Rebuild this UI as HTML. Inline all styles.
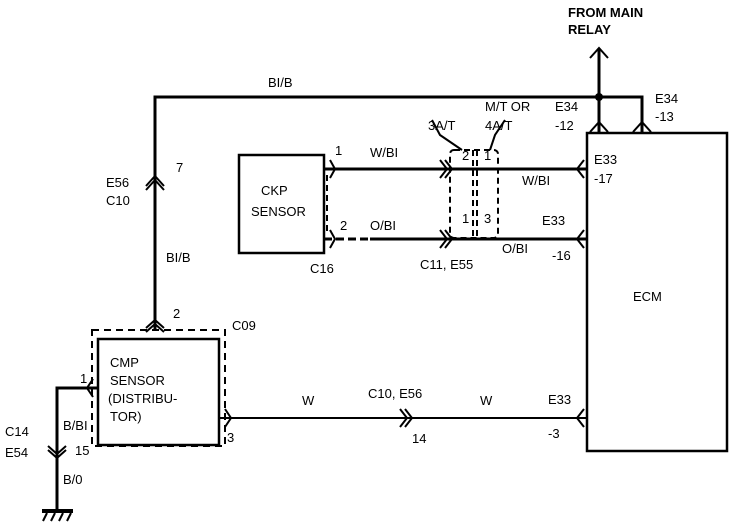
<!DOCTYPE html>
<html><head><style>body{margin:0;background:#fff}svg{display:block}text{font-family:"Liberation Sans",sans-serif;font-size:13px;fill:#000}</style></head><body>
<svg width="752" height="526" viewBox="0 0 752 526" xmlns="http://www.w3.org/2000/svg">
<g stroke="#000" stroke-width="3" fill="none">
<!-- top wire -->
<polyline points="155,330 155,97 642,97 642,133"/>
<line x1="599" y1="48" x2="599" y2="133"/>
<!-- ECM -->
<rect x="587" y="133" width="140" height="318" stroke-width="2.5"/>
<!-- CKP -->
<rect x="239" y="155" width="85" height="98" stroke-width="2.5"/>
<line x1="324" y1="169" x2="587" y2="169"/>
<line x1="370" y1="239" x2="587" y2="239"/>
<line x1="324" y1="239" x2="370" y2="239" stroke-dasharray="8,4"/>
<!-- CMP -->
<rect x="98" y="339" width="121" height="106" stroke-width="2.5"/>
<polyline points="219,418 587,418" stroke-width="2"/>
<polyline points="98,388 57,388 57,510"/>
</g>
<g stroke="#000" stroke-width="2" fill="none">
<!-- chevrons -->
<polyline points="590,58 599,48 608,58"/>
<polyline points="590,132 599,122 608,132"/>
<polyline points="633,132 642,122 651,132"/>
<polyline points="146,190 155,180 164,190"/><polyline points="146,186 155,176 164,186"/>
<polyline points="146,332 155,324 164,332"/><polyline points="146,328 155,320 164,328"/>
<polyline points="330,160 335,169 330,178"/>
<polyline points="330,230 335,239 330,248"/>
<polyline points="440,160 447,169 440,178"/><polyline points="445,160 452,169 445,178"/>
<polyline points="440,230 447,239 440,248"/><polyline points="445,230 452,239 445,248"/>
<polyline points="584,160 577,169 584,178"/>
<polyline points="584,230 577,239 584,248"/>
<polyline points="584,409 577,418 584,427"/>
<polyline points="400,409 407,418 400,427"/><polyline points="405,409 412,418 405,427"/>
<polyline points="93,379 87,388 93,397"/>
<polyline points="225,409 231,418 225,427"/>
<polyline points="48,450 57,458 66,450"/><polyline points="48,446 57,454 66,446"/>
<!-- dashed outlines -->
<rect x="92" y="330" width="133" height="116" stroke-dasharray="7,5"/>
<rect x="450" y="150" width="48" height="88" rx="4" stroke-dasharray="6,4"/>
<line x1="473" y1="150" x2="473" y2="238" stroke-dasharray="6,4"/>
<line x1="477" y1="150" x2="477" y2="238" stroke-dasharray="6,4"/>
<line x1="327" y1="175" x2="327" y2="235" stroke-dasharray="6,4"/>
<polyline points="432,120 440,135 462,150"/><polyline points="505,120 495,135 490,150"/>
<!-- ground -->
<line x1="42" y1="511" x2="73" y2="511" stroke-width="4"/>
<line x1="47" y1="513" x2="43" y2="521"/><line x1="55" y1="513" x2="51" y2="521"/><line x1="63" y1="513" x2="59" y2="521"/><line x1="71" y1="513" x2="67" y2="521"/>
</g>
<circle cx="599" cy="97" r="4" fill="#000"/>
<text x="568" y="17" font-weight="bold">FROM MAIN</text>
<text x="568" y="34" font-weight="bold">RELAY</text>
<text x="268" y="87">BI/B</text>
<text x="485" y="111">M/T OR</text>
<text x="555" y="111">E34</text>
<text x="428" y="130">3A/T</text>
<text x="485" y="130">4A/T</text>
<text x="555" y="130">-12</text>
<text x="655" y="103">E34</text>
<text x="655" y="121">-13</text>
<text x="594" y="164">E33</text>
<text x="594" y="183">-17</text>
<text x="522" y="185">W/BI</text>
<text x="542" y="225">E33</text>
<text x="502" y="253">O/BI</text>
<text x="552" y="260">-16</text>
<text x="633" y="301">ECM</text>
<text x="335" y="155">1</text>
<text x="370" y="157">W/BI</text>
<text x="340" y="230">2</text>
<text x="370" y="230">O/BI</text>
<text x="310" y="273">C16</text>
<text x="420" y="269">C11, E55</text>
<text x="261" y="195">CKP</text>
<text x="251" y="216">SENSOR</text>
<text x="462" y="160" font-size="11">2</text><text x="484" y="160" font-size="11">1</text>
<text x="462" y="223" font-size="11">1</text><text x="484" y="223" font-size="11">3</text>
<text x="106" y="187">E56</text>
<text x="106" y="205">C10</text>
<text x="176" y="172" font-size="10">7</text>
<text x="166" y="262">BI/B</text>
<text x="173" y="318">2</text>
<text x="232" y="330">C09</text>
<text x="110" y="367">CMP</text>
<text x="110" y="385">SENSOR</text>
<text x="108" y="403">(DISTRIBU-</text>
<text x="110" y="421">TOR)</text>
<text x="80" y="383">1</text>
<text x="227" y="442">3</text>
<text x="302" y="405">W</text>
<text x="368" y="398">C10, E56</text>
<text x="480" y="405">W</text>
<text x="548" y="404">E33</text>
<text x="548" y="438">-3</text>
<text x="412" y="443" font-size="11">14</text>
<text x="63" y="430">B/BI</text>
<text x="5" y="436">C14</text>
<text x="5" y="457">E54</text>
<text x="75" y="455">15</text>
<text x="63" y="484">B/0</text>
</svg>
</body></html>
